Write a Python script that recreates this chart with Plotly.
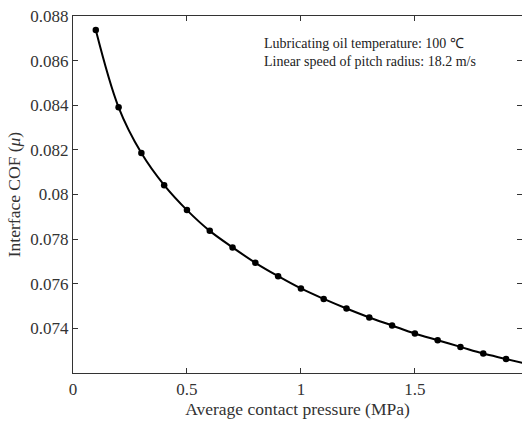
import plotly.graph_objects as go

pressure = [0.1, 0.2, 0.3, 0.4, 0.5, 0.6, 0.7, 0.8, 0.9, 1.0,
            1.1, 1.2, 1.3, 1.4, 1.5, 1.6, 1.7, 1.8, 1.9, 2.0]
cof = [0.08737, 0.08391, 0.08186, 0.08042, 0.07930, 0.07837, 0.07763, 0.07694,
       0.07634, 0.07579, 0.07532, 0.07489, 0.07449, 0.07413, 0.07377, 0.07347,
       0.07317, 0.07287, 0.07263, 0.07238]

x_tickvals = [0, 0.5, 1, 1.5]
x_ticktext = ["0", "0.5", "1", "1.5"]
y_tickvals = [0.074, 0.076, 0.078, 0.080, 0.082, 0.084, 0.086, 0.088]
y_ticktext = ["0.074", "0.076", "0.078", "0.08", "0.082", "0.084", "0.086", "0.088"]

font_family = "Liberation Serif"
axis_color = "#333333"

fig = go.Figure()
fig.add_trace(go.Scatter(
    x=pressure, y=cof, mode="lines+markers",
    line=dict(color="black", width=2, shape="spline"),
    marker=dict(color="black", size=6.5),
    showlegend=False,
))

fig.update_layout(
    width=522, height=421,
    margin=dict(l=73, r=0, t=16, b=48),
    plot_bgcolor="white", paper_bgcolor="white",
    font=dict(family=font_family, size=17, color="#333333"),
    xaxis=dict(
        range=[0, 1.97], tickvals=x_tickvals, ticktext=x_ticktext,
        ticks="inside", ticklen=5, tickcolor=axis_color,
        showline=True, linecolor=axis_color, linewidth=1.2, mirror="ticks",
        showgrid=False, zeroline=False,
        title=dict(text="Average contact pressure (MPa)", font=dict(size=17.5), standoff=2),
    ),
    yaxis=dict(
        range=[0.072, 0.088], tickvals=y_tickvals, ticktext=y_ticktext,
        ticks="inside", ticklen=5, tickcolor=axis_color,
        showline=True, linecolor=axis_color, linewidth=1.2, mirror="ticks",
        showgrid=False, zeroline=False,
        title=dict(text="Interface COF (<i>μ</i>)", font=dict(size=17.5), standoff=5),
    ),
    annotations=[dict(
        xref="paper", yref="paper", x=0.421, y=0.95,
        xanchor="left", yanchor="top", align="left", showarrow=False,
        text="Lubricating oil temperature: 100 ℃<br>Linear speed of pitch radius: 18.2 m/s",
        font=dict(size=14, color="#222222"),
    )],
)

fig.write_html("out.html")
